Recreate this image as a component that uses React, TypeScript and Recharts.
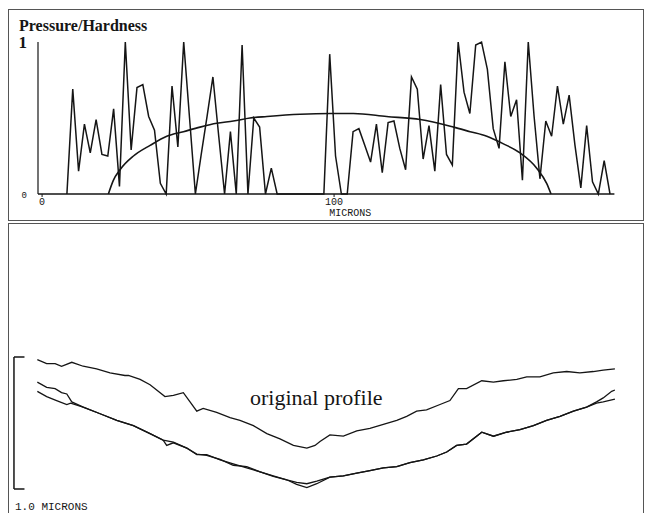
import React from 'react';
import { LineChart, Line, XAxis, YAxis, ReferenceLine } from 'recharts';

// top panel: pressure/hardness ratio along the indent, sampled every 2 microns
const SPIKE_START = 8.5;
const SPIKE_STEP = 2;
const spikeValues = [
  0,
  0.69, 0.15, 0.46, 0.27, 0.49, 0.26, 0.25, 0.56, 0.05, 1.0,
  0.29, 0.70, 0.72, 0.51, 0.42, 0.07, 0, 0.71, 0.31, 1.0,
  0.5, 0, 0.26, 0.51, 0.77, 0.38, 0, 0.41, 0, 0.98,
  0, 0.50, 0.44, 0, 0.17, 0, 0, 0, 0, 0,
  0, 0, 0, 0, 0.92, 0.25, 0, 0, 0.41, 0.43,
  0.32, 0.21, 0.46, 0.14, 0.47, 0.48, 0.30, 0.16, 0.77, 0.69,
  0.23, 0.45, 0.15, 0.72, 0.26, 0.19, 1.0, 0.67, 0.53, 0.98,
  1.0, 0.82, 0.43, 0.30, 0.87, 0.51, 0.62, 0.09, 1.0, 0.51,
  0.10, 0.48, 0.38, 0.71, 0.46, 0.65, 0.32, 0.04, 0.45, 0.08,
  0, 0.22, 0,
];

// smooth pressure curve
const archMicrons = [22.7, 24.4, 26.7, 31.3, 37, 42.7, 48.4, 54.1, 59.8, 65.5, 71.2, 77, 88.4, 98.6, 106.6, 118, 129.5, 140.9, 146.6, 152.3, 158, 163.7, 169.4, 172.8, 174.3];
const archValues = [0, 0.09, 0.16, 0.25, 0.32, 0.38, 0.41, 0.44, 0.465, 0.48, 0.5, 0.51, 0.525, 0.53, 0.53, 0.51, 0.49, 0.44, 0.41, 0.38, 0.33, 0.27, 0.17, 0.07, 0];

const xTicks = [0, 100];
const yTicks = [0, 1];

// bottom panel: surface profiles (microns across, microns of height)
const originalX = [-1.6, 1.6, 4.5, 6.7, 10.2, 14.1, 18.7, 23.3, 28.4, 29.6, 33.6, 37, 42.1, 45, 48.4, 50.7, 53, 55.2, 59.8, 64.4, 67.8, 72.4, 77, 81.5, 86.1, 90.7, 93.5, 95.2, 98.6, 103.2, 107.8, 112.3, 116.9, 121.5, 124.9, 128.3, 131.7, 136.3, 139.7, 142.6, 145.4, 150.6, 154.6, 158, 162.6, 166, 170.5, 175.1, 179.7, 184.2, 188.8, 192.2, 196.2];
const originalY = [0.98, 0.95, 0.95, 0.93, 0.96, 0.93, 0.91, 0.88, 0.86, 0.86, 0.83, 0.79, 0.70, 0.71, 0.73, 0.66, 0.59, 0.61, 0.58, 0.54, 0.52, 0.48, 0.42, 0.38, 0.33, 0.31, 0.33, 0.36, 0.41, 0.40, 0.44, 0.46, 0.49, 0.52, 0.55, 0.59, 0.60, 0.64, 0.67, 0.76, 0.76, 0.82, 0.81, 0.82, 0.83, 0.85, 0.85, 0.88, 0.89, 0.88, 0.89, 0.90, 0.91];

const measuredX = [-1.6, 1.6, 4.5, 6.7, 8.5, 10.2, 14.1, 19.9, 25.6, 31.3, 37, 41.5, 42.7, 45, 49.6, 53, 56.4, 61, 65.5, 70.1, 74.7, 79.2, 83.8, 87.2, 90.7, 94.1, 98.6, 103.2, 107.8, 112.3, 116.9, 121.5, 126, 130.6, 135.2, 138.6, 142, 145.4, 150.6, 154.6, 159.1, 163.7, 168.3, 172.8, 177.4, 182, 186.5, 189.9, 192.2, 195.1, 196.2];
const measuredY = [0.81, 0.77, 0.76, 0.73, 0.72, 0.66, 0.62, 0.57, 0.52, 0.48, 0.42, 0.37, 0.33, 0.35, 0.31, 0.26, 0.26, 0.22, 0.19, 0.16, 0.13, 0.10, 0.07, 0.05, 0.04, 0.06, 0.09, 0.10, 0.12, 0.14, 0.16, 0.17, 0.20, 0.22, 0.25, 0.28, 0.33, 0.34, 0.43, 0.40, 0.43, 0.45, 0.48, 0.52, 0.55, 0.59, 0.62, 0.66, 0.69, 0.74, 0.75];

const computedX = [-1.6, 1.6, 5, 8.5, 9.8, 14.1, 19.9, 25.6, 31.3, 37, 41.5, 45, 49.6, 53, 56.4, 61, 65.5, 70.1, 74.7, 79.2, 83.8, 87.2, 90.7, 94.1, 98.6, 103.2, 107.8, 112.3, 116.9, 121.5, 126, 130.6, 135.2, 138.6, 142, 145.4, 150.6, 154.6, 159.1, 163.7, 168.3, 172.8, 177.4, 182, 186.5, 189.9, 192.2, 196.2];
const computedY = [0.74, 0.70, 0.67, 0.64, 0.65, 0.62, 0.57, 0.52, 0.48, 0.42, 0.37, 0.355, 0.31, 0.265, 0.255, 0.225, 0.18, 0.17, 0.13, 0.095, 0.07, 0.035, 0.01, 0.04, 0.09, 0.10, 0.12, 0.14, 0.16, 0.17, 0.20, 0.22, 0.25, 0.28, 0.33, 0.34, 0.43, 0.40, 0.43, 0.45, 0.48, 0.52, 0.55, 0.59, 0.62, 0.65, 0.66, 0.68];

const SCALE_BAR = 1.0; // microns
const SCALE_BAR_X = -9.6;
const SCALE_BAR_CAP = 3.6;

const spikeData = spikeValues.map((v, i) => ({ x: SPIKE_START + i * SPIKE_STEP, v }));
const archData = archMicrons.map((x, i) => ({ x, v: archValues[i] }));
const toRows = (xs: number[], ys: number[]) => xs.map((x, i) => ({ x, y: ys[i] }));

const INK = '#151515';
const mono = "'Liberation Mono', 'DejaVu Sans Mono', monospace";
const serif = "'Liberation Serif', 'Times New Roman', serif";

function PressureTick(props: any) {
  const { x, y, payload } = props;
  if (payload.value === 1) {
    return (
      <text x={x} y={y + 6} textAnchor="end" fontFamily={serif} fontWeight="bold" fontSize={17} fill={INK}>
        1
      </text>
    );
  }
  return (
    <text x={x} y={y + 4} textAnchor="end" fontFamily={mono} fontSize={9} fill={INK}>
      {payload.value}
    </text>
  );
}

export default function App() {
  return (
    <div style={{ position: 'fixed', left: 0, top: 0, width: 649, height: 513, overflow: 'hidden', background: '#fff' }}>
      <div style={{ position: 'absolute', left: 8, top: 9, width: 634, height: 210, border: '1px solid #555' }} />
      <div style={{ position: 'absolute', left: 8, top: 223, width: 634, height: 320, border: '1px solid #555' }} />

      <div style={{ position: 'absolute', left: 0, top: 0 }}>
        <LineChart width={649} height={222} margin={{ top: 42, right: 34.6, bottom: 10, left: 8 }}>
          <XAxis
            type="number"
            dataKey="x"
            domain={[-1.4, 196]}
            ticks={xTicks}
            allowDataOverflow
            height={18}
            axisLine={{ stroke: INK, strokeWidth: 1.5 }}
            tickLine={{ stroke: INK }}
            tickSize={3}
            tickMargin={1}
            tick={{ fontSize: 10, fontFamily: mono, fill: INK }}
            label={{ value: 'MICRONS', position: 'bottom', offset: -3, dx: 24, fontSize: 10, fontFamily: mono, fill: INK }}
          />
          <YAxis
            type="number"
            domain={[0, 1]}
            ticks={yTicks}
            width={30}
            axisLine={{ stroke: INK, strokeWidth: 1.2 }}
            tickLine={false}
            tickSize={0}
            tickMargin={11}
            tick={<PressureTick />}
          />
          <Line data={spikeData} dataKey="v" type="linear" dot={false} stroke={INK} strokeWidth={1.5} isAnimationActive={false} />
          <Line data={archData} dataKey="v" type="monotone" dot={false} stroke={INK} strokeWidth={1.6} isAnimationActive={false} />
        </LineChart>
      </div>

      <div style={{ position: 'absolute', left: 0, top: 220 }}>
        <LineChart width={649} height={293} margin={{ top: 11.6, right: 23, bottom: 4.2, left: 12.8 }}>
          <XAxis type="number" dataKey="x" domain={[-10, 200]} hide />
          <YAxis type="number" domain={[-0.15, 1.95]} hide />
          <ReferenceLine segment={[{ x: SCALE_BAR_X, y: 0 }, { x: SCALE_BAR_X, y: SCALE_BAR }]} stroke={INK} strokeWidth={1.5} />
          <ReferenceLine segment={[{ x: SCALE_BAR_X, y: SCALE_BAR }, { x: SCALE_BAR_X + SCALE_BAR_CAP, y: SCALE_BAR }]} stroke={INK} strokeWidth={1.5} />
          <ReferenceLine segment={[{ x: SCALE_BAR_X, y: 0 }, { x: SCALE_BAR_X + SCALE_BAR_CAP, y: 0 }]} stroke={INK} strokeWidth={1.5} />
          <Line data={toRows(originalX, originalY)} dataKey="y" type="linear" dot={false} stroke={INK} strokeWidth={1.3} isAnimationActive={false} />
          <Line data={toRows(measuredX, measuredY)} dataKey="y" type="linear" dot={false} stroke={INK} strokeWidth={1.3} isAnimationActive={false} />
          <Line data={toRows(computedX, computedY)} dataKey="y" type="linear" dot={false} stroke={INK} strokeWidth={1.3} isAnimationActive={false} />
        </LineChart>
      </div>

      <svg width={649} height={513} style={{ position: 'absolute', left: 0, top: 0, pointerEvents: 'none' }}>
        <text x={19} y={31} fontFamily={serif} fontWeight="bold" fontSize={16} fill={INK}>Pressure/Hardness</text>
        <text x={250} y={405} fontFamily={serif} fontSize={22} fill={INK}>original profile</text>
        <text x={15} y={510} fontFamily={mono} fontSize={11} fill={INK}>1.0 MICRONS</text>
      </svg>
    </div>
  );
}
